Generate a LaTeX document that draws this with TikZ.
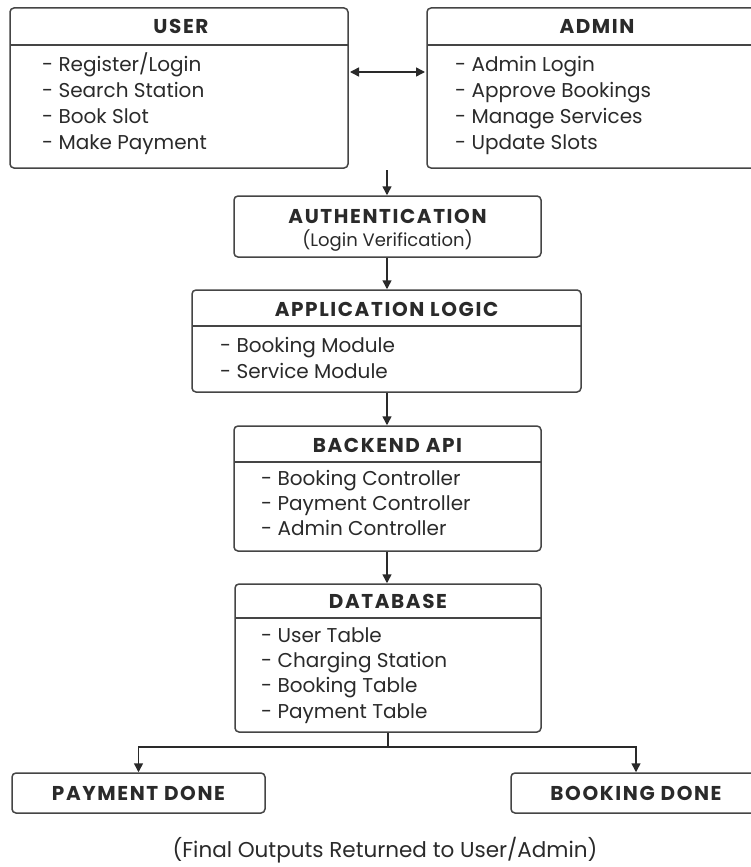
\documentclass[tikz,border=0pt]{standalone}
\usepackage{fontspec}
\setmainfont{Poppins}
\newfontfamily\ttlfont[LetterSpace=8]{Poppins}
\usetikzlibrary{arrows.meta}
\definecolor{ink}{HTML}{2A2A2A}
\definecolor{edge}{HTML}{454545}
\tikzset{
  box/.style={draw=edge, line width=1.5pt, rounded corners=4pt, inner sep=0pt, fill=white},
  ttl/.style={font=\ttlfont\bfseries\fontsize{20}{24}\selectfont, text=ink, inner sep=0pt, anchor=base},
  itm/.style={font=\fontsize{20}{23}\selectfont, text=ink, anchor=base west, inner sep=0pt},
  sep/.style={draw=edge, line width=1.3pt},
  arr/.style={draw=ink, line width=1.5pt, -{Triangle[length=9pt,width=9pt]}},
  darr/.style={draw=ink, line width=1.5pt, {Triangle[length=9pt,width=9pt]}-{Triangle[length=9pt,width=9pt]}},
}
\begin{document}
\begin{tikzpicture}[x=1pt,y=-1pt]
\useasboundingbox[fill=white] (0,0) rectangle (751,867);
% USER
\node[box, minimum width=338pt, minimum height=160pt] (user) at (179,88) {};
\draw[sep] (10,45) -- (348,45);
\node[ttl] (userT) at (181,34) {USER};
\node[itm] (u1) at (42,71) {- Register/Login};
\node[itm] (u2) at (42,97) {- Search Station};
\node[itm] (u3) at (42,123) {- Book Slot};
\node[itm] (u4) at (42,149) {- Make Payment};
% ADMIN
\node[box, minimum width=340pt, minimum height=160pt] (admin) at (597,88) {};
\draw[sep] (427,45) -- (767,45);
\node[ttl] (adminT) at (597,34) {ADMIN};
\node[itm] (a1) at (455,71) {- Admin Login};
\node[itm] (a2) at (455,97) {- Approve Bookings};
\node[itm] (a3) at (455,123) {- Manage Services};
\node[itm] (a4) at (455,149) {- Update Slots};
\coordinate (lu) at (350,72);
\coordinate (la) at (425,72);
\draw[darr] (lu) -- (la);
% AUTH
\node[box, minimum width=307pt, minimum height=61pt] (auth) at (387.5,226.5) {};
\node[ttl] (authT) at (387.5,223) {AUTHENTICATION};
\node[font=\fontsize{18}{21}\selectfont, text=ink, inner sep=0pt, anchor=base] (authS) at (387.5,246) {(Login Verification)};
\coordinate (top) at (387,170);
\draw[arr] (top) -- (auth.north -| top);
% APP
\node[box, minimum width=389pt, minimum height=102pt] (app) at (386.5,341) {};
\draw[sep] (192,326) -- (581,326);
\node[ttl] (appT) at (386.5,316) {APPLICATION LOGIC};
\node[itm] (p1) at (220,352) {- Booking Module};
\node[itm] (p2) at (220,378) {- Service Module};
\draw[arr] (auth.south -| top) -- (app.north -| top);
% BACKEND
\node[box, minimum width=307pt, minimum height=125pt] (api) at (387.5,488.5) {};
\draw[sep] (234,462) -- (541,462);
\node[ttl] (apiT) at (387.5,452) {BACKEND API};
\node[itm] (b1) at (261,485) {- Booking Controller};
\node[itm] (b2) at (261,510) {- Payment Controller};
\node[itm] (b3) at (261,535) {- Admin Controller};
\draw[arr] (app.south -| top) -- (api.north -| top);
% DATABASE
\node[box, minimum width=306pt, minimum height=148pt] (db) at (388,658) {};
\draw[sep] (235,618) -- (541,618);
\node[ttl] (dbT) at (388,608) {DATABASE};
\node[itm] (d1) at (261,642) {- User Table};
\node[itm] (d2) at (261,667) {- Charging Station};
\node[itm] (d3) at (261,692) {- Booking Table};
\node[itm] (d4) at (261,718) {- Payment Table};
\draw[arr] (api.south -| top) -- (db.north -| top);
% outputs
\node[box, minimum width=253pt, minimum height=40pt] (pay) at (138.5,793) {};
\node[ttl] (payT) at (138.5,800) {PAYMENT DONE};
\node[box, minimum width=250pt, minimum height=40pt] (book) at (636,793) {};
\node[ttl] (bookT) at (636,800) {BOOKING DONE};
\coordinate (fork) at (388,747);
\draw[line width=1.5pt, draw=ink] (db.south -| fork) -- (fork);
\draw[arr] (fork) -| (pay.north);
\draw[arr] (fork) -| (book.north);
\node[font=\fontsize{21.5}{25}\selectfont, text=ink, inner sep=0pt, anchor=base] (foot) at (385,857) {(Final Outputs Returned to User/Admin)};
\end{tikzpicture}
\end{document}
